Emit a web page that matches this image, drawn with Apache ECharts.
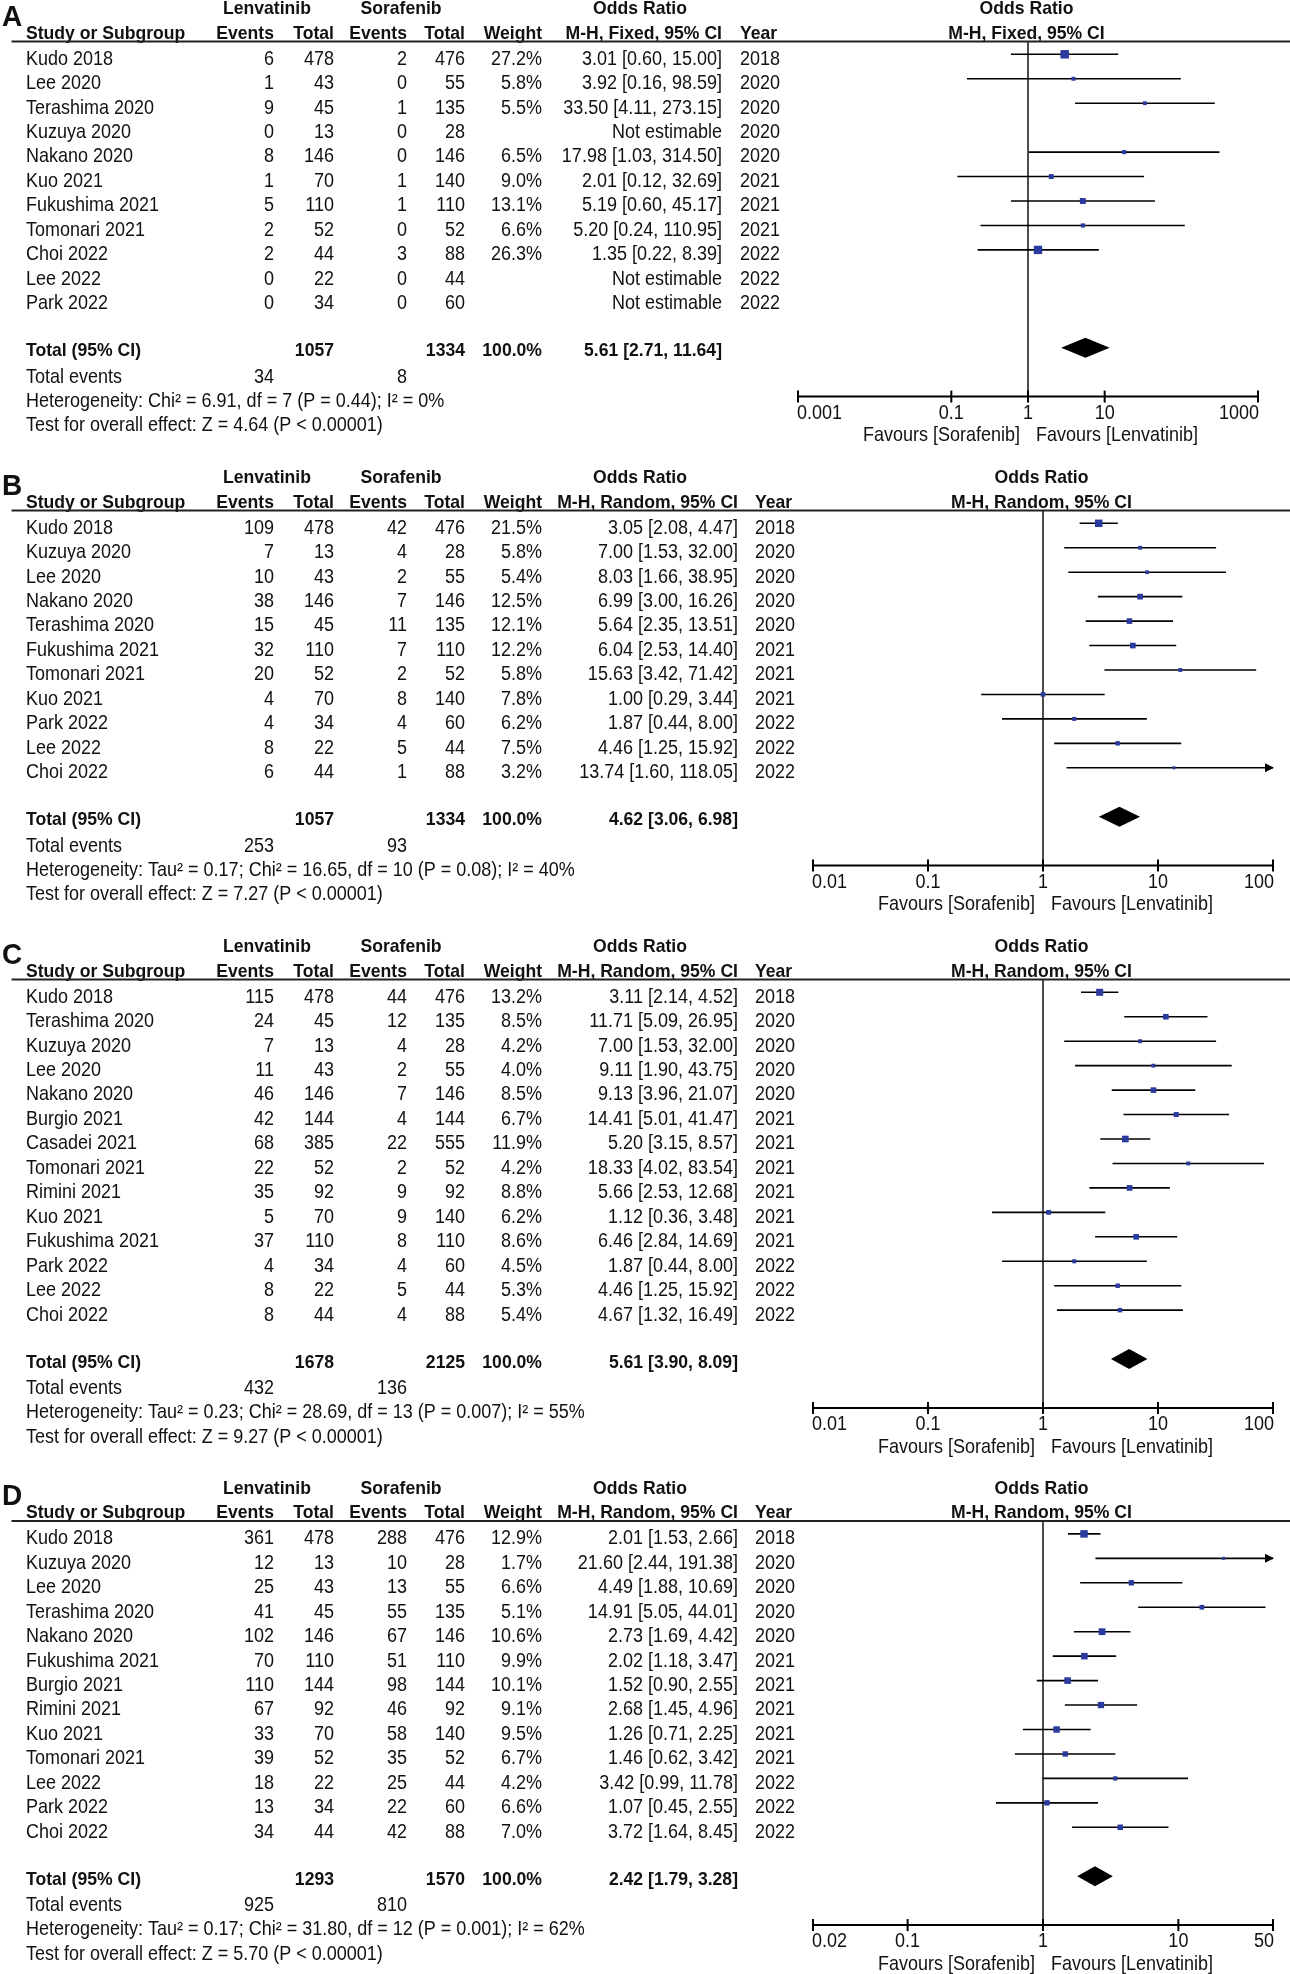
<!DOCTYPE html>
<html>
<head>
<meta charset="utf-8">
<script src="https://cdn.jsdelivr.net/npm/echarts@6/dist/echarts.min.js"></script>
<style>html,body{margin:0;padding:0;background:#fff}#c{width:1290px;height:1974px}</style>
</head>
<body>
<div id="c"></div>
<script>
// ---------------- DATA ----------------
// Panel A (M-H, Fixed)
const A_study   = ['Kudo 2018','Lee 2020','Terashima 2020','Kuzuya 2020','Nakano 2020','Kuo 2021','Fukushima 2021','Tomonari 2021','Choi 2022','Lee 2022','Park 2022'];
const A_lenEv   = [6,1,9,0,8,1,5,2,2,0,0];
const A_lenTot  = [478,43,45,13,146,70,110,52,44,22,34];
const A_soraEv  = [2,0,1,0,0,1,1,0,3,0,0];
const A_soraTot = [476,55,135,28,146,140,110,52,88,44,60];
const A_weight  = [27.2,5.8,5.5,null,6.5,9.0,13.1,6.6,26.3,null,null];
const A_or      = [3.01,3.92,33.50,null,17.98,2.01,5.19,5.20,1.35,null,null];
const A_lo      = [0.60,0.16,4.11,null,1.03,0.12,0.60,0.24,0.22,null,null];
const A_hi      = [15.00,98.59,273.15,null,314.50,32.69,45.17,110.95,8.39,null,null];
const A_year    = [2018,2020,2020,2020,2020,2021,2021,2021,2022,2022,2022];
const A_total   = [1057,1334,100.0];
const A_totalOR = [5.61,2.71,11.64];
const A_events  = [34,8];
const A_het     = 'Heterogeneity: Chi\u00B2 = 6.91, df = 7 (P = 0.44); I\u00B2 = 0%';
const A_test    = 'Test for overall effect: Z = 4.64 (P < 0.00001)';
const A_range   = [0.001,1000];
const A_ticks   = [0.001,0.1,1,10,1000];
const A_tickLbl = ['0.001','0.1','1','10','1000'];

// Panel B (M-H, Random)
const B_study   = ['Kudo 2018','Kuzuya 2020','Lee 2020','Nakano 2020','Terashima 2020','Fukushima 2021','Tomonari 2021','Kuo 2021','Park 2022','Lee 2022','Choi 2022'];
const B_lenEv   = [109,7,10,38,15,32,20,4,4,8,6];
const B_lenTot  = [478,13,43,146,45,110,52,70,34,22,44];
const B_soraEv  = [42,4,2,7,11,7,2,8,4,5,1];
const B_soraTot = [476,28,55,146,135,110,52,140,60,44,88];
const B_weight  = [21.5,5.8,5.4,12.5,12.1,12.2,5.8,7.8,6.2,7.5,3.2];
const B_or      = [3.05,7.00,8.03,6.99,5.64,6.04,15.63,1.00,1.87,4.46,13.74];
const B_lo      = [2.08,1.53,1.66,3.00,2.35,2.53,3.42,0.29,0.44,1.25,1.60];
const B_hi      = [4.47,32.00,38.95,16.26,13.51,14.40,71.42,3.44,8.00,15.92,118.05];
const B_year    = [2018,2020,2020,2020,2020,2021,2021,2021,2022,2022,2022];
const B_total   = [1057,1334,100.0];
const B_totalOR = [4.62,3.06,6.98];
const B_events  = [253,93];
const B_het     = 'Heterogeneity: Tau\u00B2 = 0.17; Chi\u00B2 = 16.65, df = 10 (P = 0.08); I\u00B2 = 40%';
const B_test    = 'Test for overall effect: Z = 7.27 (P < 0.00001)';
const B_range   = [0.01,100];
const B_ticks   = [0.01,0.1,1,10,100];
const B_tickLbl = ['0.01','0.1','1','10','100'];

// Panel C (M-H, Random)
const C_study   = ['Kudo 2018','Terashima 2020','Kuzuya 2020','Lee 2020','Nakano 2020','Burgio 2021','Casadei 2021','Tomonari 2021','Rimini 2021','Kuo 2021','Fukushima 2021','Park 2022','Lee 2022','Choi 2022'];
const C_lenEv   = [115,24,7,11,46,42,68,22,35,5,37,4,8,8];
const C_lenTot  = [478,45,13,43,146,144,385,52,92,70,110,34,22,44];
const C_soraEv  = [44,12,4,2,7,4,22,2,9,9,8,4,5,4];
const C_soraTot = [476,135,28,55,146,144,555,52,92,140,110,60,44,88];
const C_weight  = [13.2,8.5,4.2,4.0,8.5,6.7,11.9,4.2,8.8,6.2,8.6,4.5,5.3,5.4];
const C_or      = [3.11,11.71,7.00,9.11,9.13,14.41,5.20,18.33,5.66,1.12,6.46,1.87,4.46,4.67];
const C_lo      = [2.14,5.09,1.53,1.90,3.96,5.01,3.15,4.02,2.53,0.36,2.84,0.44,1.25,1.32];
const C_hi      = [4.52,26.95,32.00,43.75,21.07,41.47,8.57,83.54,12.68,3.48,14.69,8.00,15.92,16.49];
const C_year    = [2018,2020,2020,2020,2020,2021,2021,2021,2021,2021,2021,2022,2022,2022];
const C_total   = [1678,2125,100.0];
const C_totalOR = [5.61,3.90,8.09];
const C_events  = [432,136];
const C_het     = 'Heterogeneity: Tau\u00B2 = 0.23; Chi\u00B2 = 28.69, df = 13 (P = 0.007); I\u00B2 = 55%';
const C_test    = 'Test for overall effect: Z = 9.27 (P < 0.00001)';
const C_range   = [0.01,100];
const C_ticks   = [0.01,0.1,1,10,100];
const C_tickLbl = ['0.01','0.1','1','10','100'];

// Panel D (M-H, Random)
const D_study   = ['Kudo 2018','Kuzuya 2020','Lee 2020','Terashima 2020','Nakano 2020','Fukushima 2021','Burgio 2021','Rimini 2021','Kuo 2021','Tomonari 2021','Lee 2022','Park 2022','Choi 2022'];
const D_lenEv   = [361,12,25,41,102,70,110,67,33,39,18,13,34];
const D_lenTot  = [478,13,43,45,146,110,144,92,70,52,22,34,44];
const D_soraEv  = [288,10,13,55,67,51,98,46,58,35,25,22,42];
const D_soraTot = [476,28,55,135,146,110,144,92,140,52,44,60,88];
const D_weight  = [12.9,1.7,6.6,5.1,10.6,9.9,10.1,9.1,9.5,6.7,4.2,6.6,7.0];
const D_or      = [2.01,21.60,4.49,14.91,2.73,2.02,1.52,2.68,1.26,1.46,3.42,1.07,3.72];
const D_lo      = [1.53,2.44,1.88,5.05,1.69,1.18,0.90,1.45,0.71,0.62,0.99,0.45,1.64];
const D_hi      = [2.66,191.38,10.69,44.01,4.42,3.47,2.55,4.96,2.25,3.42,11.78,2.55,8.45];
const D_year    = [2018,2020,2020,2020,2020,2021,2021,2021,2021,2021,2022,2022,2022];
const D_total   = [1293,1570,100.0];
const D_totalOR = [2.42,1.79,3.28];
const D_events  = [925,810];
const D_het     = 'Heterogeneity: Tau\u00B2 = 0.17; Chi\u00B2 = 31.80, df = 12 (P = 0.001); I\u00B2 = 62%';
const D_test    = 'Test for overall effect: Z = 5.70 (P < 0.00001)';
const D_range   = [0.02,50];
const D_ticks   = [0.02,0.1,1,10,50];
const D_tickLbl = ['0.02','0.1','1','10','50'];

// ---------------- LAYOUT ----------------
const PITCH = 24.45;
const FAM = '"Liberation Sans", Arial, Helvetica, sans-serif';
const FN = '18px ' + FAM;
const FB = 'bold 17.6px ' + FAM;
const INK = '#111111';
const BLUE = '#2b3a9f';
const TALL = 1.08;

const panels = [
  {letter:'A', method:'M-H, Fixed, 95% CI', study:A_study, lenEv:A_lenEv, lenTot:A_lenTot, soraEv:A_soraEv, soraTot:A_soraTot, weight:A_weight, or:A_or, lo:A_lo, hi:A_hi, year:A_year, total:A_total, totalOR:A_totalOR, events:A_events, het:A_het, test:A_test, range:A_range, ticks:A_ticks, tickLbl:A_tickLbl,
   r0:54.3, axisL:798, axisR:1258, orR:722, yearL:740, box:8.5},
  {letter:'B', method:'M-H, Random, 95% CI', study:B_study, lenEv:B_lenEv, lenTot:B_lenTot, soraEv:B_soraEv, soraTot:B_soraTot, weight:B_weight, or:B_or, lo:B_lo, hi:B_hi, year:B_year, total:B_total, totalOR:B_totalOR, events:B_events, het:B_het, test:B_test, range:B_range, ticks:B_ticks, tickLbl:B_tickLbl,
   r0:523.3, axisL:813, axisR:1273, orR:738, yearL:755, box:7.5},
  {letter:'C', method:'M-H, Random, 95% CI', study:C_study, lenEv:C_lenEv, lenTot:C_lenTot, soraEv:C_soraEv, soraTot:C_soraTot, weight:C_weight, or:C_or, lo:C_lo, hi:C_hi, year:C_year, total:C_total, totalOR:C_totalOR, events:C_events, het:C_het, test:C_test, range:C_range, ticks:C_ticks, tickLbl:C_tickLbl,
   r0:992.3, axisL:813, axisR:1273, orR:738, yearL:755, box:7.0},
  {letter:'D', method:'M-H, Random, 95% CI', study:D_study, lenEv:D_lenEv, lenTot:D_lenTot, soraEv:D_soraEv, soraTot:D_soraTot, weight:D_weight, or:D_or, lo:D_lo, hi:D_hi, year:D_year, total:D_total, totalOR:D_totalOR, events:D_events, het:D_het, test:D_test, range:D_range, ticks:D_ticks, tickLbl:D_tickLbl,
   r0:1533.9, axisL:813, axisR:1273, orR:738, yearL:755, box:7.5}
];

const COL = {name:26, lenEv:274, lenTot:334, soraEv:407, soraTot:465, weight:542, hdrLen:267, hdrSora:401, hdrOR:640};

function tx(x, y, s, align, font) {
  return {type:'text', x:x, y:y, scaleY:TALL, silent:true,
    style:{text:String(s), fill:INK, font:font || FN, align:align, textAlign:align, verticalAlign:'middle', textVerticalAlign:'middle'}};
}
function ciText(o, l, h) { return o.toFixed(2) + ' [' + l.toFixed(2) + ', ' + h.toFixed(2) + ']'; }

const grids = [], xAxes = [], yAxes = [], series = [];

panels.forEach((p, gi) => {
  const N = p.study.length;
  const axisRow = N + 3;
  const rowMin = -2, rowMax = N + 6;
  grids.push({left:p.axisL, width:p.axisR - p.axisL, top:p.r0 + rowMin * PITCH, height:(rowMax - rowMin) * PITCH, containLabel:false, outerBoundsMode:'none'});
  xAxes.push({gridIndex:gi, type:'log', logBase:10, min:p.range[0], max:p.range[1], show:false});
  yAxes.push({gridIndex:gi, type:'value', inverse:true, min:rowMin, max:rowMax, show:false});

  // ---- table text items ----
  const items = [];
  items.push({row:-37 / PITCH, dy:0, texts:[{x:2, s:p.letter, a:'left', f:'bold 28px ' + FAM}]});
  items.push({row:-45.5 / PITCH, dy:0, texts:[
    {x:COL.hdrLen, s:'Lenvatinib', a:'center', f:FB},
    {x:COL.hdrSora, s:'Sorafenib', a:'center', f:FB},
    {x:COL.hdrOR, s:'Odds Ratio', a:'center', f:FB},
    {x:'plot', s:'Odds Ratio', a:'center', f:FB}]});
  items.push({row:-21 / PITCH, dy:0, texts:[
    {x:COL.name, s:'Study or Subgroup', a:'left', f:FB},
    {x:COL.lenEv, s:'Events', a:'right', f:FB},
    {x:COL.lenTot, s:'Total', a:'right', f:FB},
    {x:COL.soraEv, s:'Events', a:'right', f:FB},
    {x:COL.soraTot, s:'Total', a:'right', f:FB},
    {x:COL.weight, s:'Weight', a:'right', f:FB},
    {x:p.orR, s:p.method, a:'right', f:FB},
    {x:p.yearL, s:'Year', a:'left', f:FB},
    {x:'plot', s:p.method, a:'center', f:FB}]});
  items.push({row:-12.8 / PITCH, dy:0, texts:[], underline:true});
  for (let i = 0; i < N; i++) {
    const est = p.or[i] != null;
    const t = [
      {x:COL.name, s:p.study[i], a:'left'},
      {x:COL.lenEv, s:p.lenEv[i], a:'right'},
      {x:COL.lenTot, s:p.lenTot[i], a:'right'},
      {x:COL.soraEv, s:p.soraEv[i], a:'right'},
      {x:COL.soraTot, s:p.soraTot[i], a:'right'},
      {x:p.orR, s:est ? ciText(p.or[i], p.lo[i], p.hi[i]) : 'Not estimable', a:'right'},
      {x:p.yearL, s:p.year[i], a:'left'}];
    if (p.weight[i] != null) t.push({x:COL.weight, s:p.weight[i].toFixed(1) + '%', a:'right'});
    items.push({row:i, dy:5, texts:t});
  }
  items.push({row:N + 1, dy:3.5, texts:[
    {x:COL.name, s:'Total (95% CI)', a:'left', f:FB},
    {x:COL.lenTot, s:p.total[0], a:'right', f:FB},
    {x:COL.soraTot, s:p.total[1], a:'right', f:FB},
    {x:COL.weight, s:p.total[2].toFixed(1) + '%', a:'right', f:FB},
    {x:p.orR, s:ciText(p.totalOR[0], p.totalOR[1], p.totalOR[2]), a:'right', f:FB}]});
  items.push({row:N + 2, dy:5, texts:[
    {x:COL.name, s:'Total events', a:'left'},
    {x:COL.lenEv, s:p.events[0], a:'right'},
    {x:COL.soraEv, s:p.events[1], a:'right'}]});
  items.push({row:N + 3, dy:5, texts:[{x:COL.name, s:p.het, a:'left'}]});
  items.push({row:N + 4, dy:5, texts:[{x:COL.name, s:p.test, a:'left'}]});

  series.push({
    type:'custom', xAxisIndex:gi, yAxisIndex:gi, silent:true, clip:false, z:5,
    data:items.map((it, k) => [1, it.row, k]),
    renderItem:(params, api) => {
      const it = items[params.dataIndex];
      const pt = api.coord([1, it.row]);
      const y = pt[1] + it.dy;
      const ch = it.texts.map(t => tx(t.x === 'plot' ? pt[0] - 1.5 : t.x, y, t.s, t.a, t.f));
      if (it.underline) ch.push({type:'line', silent:true, shape:{x1:11.5, y1:y, x2:1290, y2:y}, style:{stroke:'#222', lineWidth:2}});
      return {type:'group', children:ch};
    }
  });

  // ---- vertical line at OR = 1 and axis line ----
  series.push({type:'line', xAxisIndex:gi, yAxisIndex:gi, silent:true, symbol:'none', z:2,
    data:[[1, -12.8 / PITCH], [1, axisRow]], lineStyle:{color:'#000', width:1.4}});
  series.push({type:'line', xAxisIndex:gi, yAxisIndex:gi, silent:true, symbol:'none', z:2,
    data:[[p.range[0], axisRow], [p.range[1], axisRow]], lineStyle:{color:'#000', width:2}});

  // ---- ticks + labels ----
  series.push({
    type:'custom', xAxisIndex:gi, yAxisIndex:gi, silent:true, clip:false, z:3,
    data:p.ticks.map((v, k) => [v, axisRow, k]),
    renderItem:(params, api) => {
      const k = params.dataIndex;
      const pt = api.coord([api.value(0), api.value(1)]);
      const a = k === 0 ? 'left' : (k === p.ticks.length - 1 ? 'right' : 'center');
      const lx = k === 0 ? pt[0] - 1 : (k === p.ticks.length - 1 ? pt[0] + 1 : pt[0]);
      return {type:'group', children:[
        {type:'line', silent:true, shape:{x1:pt[0], y1:pt[1] - 6, x2:pt[0], y2:pt[1] + 6}, style:{stroke:'#000', lineWidth:2}},
        tx(lx, pt[1] + 17, p.tickLbl[k], a)]};
    }
  });
  // ---- favours labels ----
  series.push({
    type:'custom', xAxisIndex:gi, yAxisIndex:gi, silent:true, clip:false, z:3,
    data:[[1, axisRow]],
    renderItem:(params, api) => {
      const pt = api.coord([1, api.value(1)]);
      return {type:'group', children:[
        tx(pt[0] - 8, pt[1] + 39.5, 'Favours [Sorafenib]', 'right'),
        tx(pt[0] + 8, pt[1] + 39.5, 'Favours [Lenvatinib]', 'left')]};
    }
  });

  // ---- study CIs and boxes ----
  const wmax = Math.max.apply(null, p.weight.filter(w => w != null));
  const pts = [];
  for (let i = 0; i < N; i++) if (p.or[i] != null) pts.push([p.or[i], i, p.lo[i], p.hi[i], p.weight[i]]);
  series.push({
    type:'custom', xAxisIndex:gi, yAxisIndex:gi, silent:true, clip:false, z:4,
    data:pts,
    renderItem:(params, api) => {
      const o = api.value(0), r = api.value(1), l = api.value(2), h = api.value(3), w = api.value(4);
      const c = api.coord([o, r]);
      const xl = api.coord([Math.max(l, p.range[0]), r])[0];
      const xh = api.coord([Math.min(h, p.range[1]), r])[0];
      const ch = [{type:'line', silent:true, shape:{x1:xl, y1:c[1], x2:xh, y2:c[1]}, style:{stroke:'#000', lineWidth:1.6}}];
      if (h > p.range[1]) ch.push({type:'polygon', silent:true, shape:{points:[[xh + 1, c[1]], [xh - 8, c[1] - 4.5], [xh - 8, c[1] + 4.5]]}, style:{fill:'#000'}});
      if (l < p.range[0]) ch.push({type:'polygon', silent:true, shape:{points:[[xl - 1, c[1]], [xl + 8, c[1] - 4.5], [xl + 8, c[1] + 4.5]]}, style:{fill:'#000'}});
      const s = Math.max(3, p.box * Math.sqrt(w / wmax));
      ch.push({type:'rect', silent:true, shape:{x:c[0] - s / 2, y:c[1] - s / 2, width:s, height:s}, style:{fill:BLUE}});
      return {type:'group', children:ch};
    }
  });

  // ---- pooled diamond ----
  series.push({
    type:'custom', xAxisIndex:gi, yAxisIndex:gi, silent:true, clip:false, z:4,
    data:[[p.totalOR[0], N + 1, p.totalOR[1], p.totalOR[2]]],
    renderItem:(params, api) => {
      const r = api.value(1);
      const c = api.coord([api.value(0), r]);
      const xl = api.coord([api.value(2), r])[0];
      const xh = api.coord([api.value(3), r])[0];
      return {type:'polygon', silent:true, shape:{points:[[xl, c[1]], [c[0], c[1] - 10], [xh, c[1]], [c[0], c[1] + 10]]}, style:{fill:'#000'}};
    }
  });
});

const chart = echarts.init(document.getElementById('c'), null, {renderer:'canvas'});
chart.setOption({
  backgroundColor:'#ffffff',
  animation:false,
  grid:grids, xAxis:xAxes, yAxis:yAxes, series:series
});
</script>
</body>
</html>
